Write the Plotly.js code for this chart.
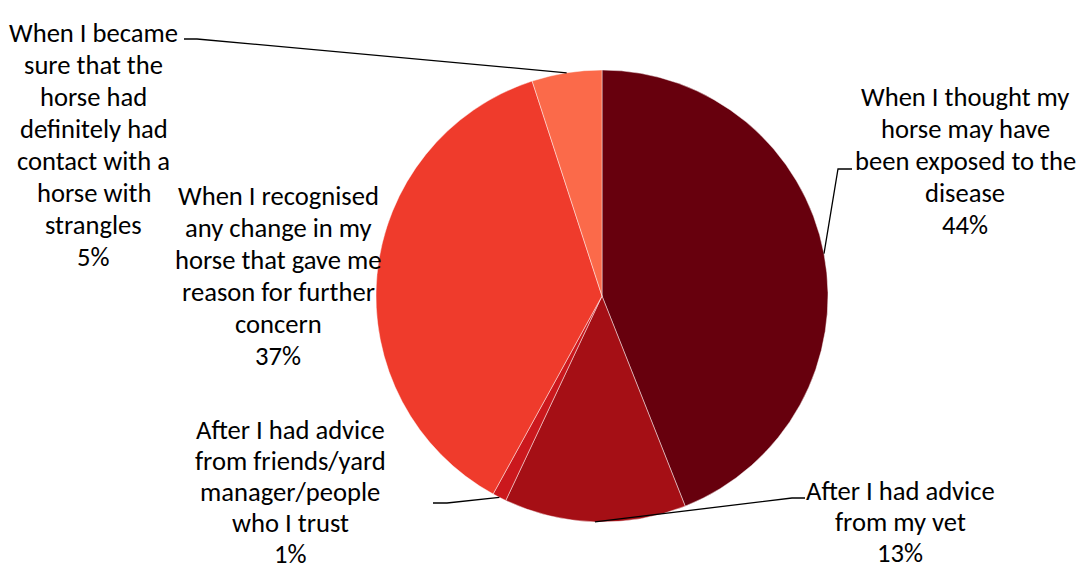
<!DOCTYPE html>
<html>
<head>
<meta charset="utf-8">
<script src="https://cdn.plot.ly/plotly-3.0.1.min.js"></script>
<style>html,body{margin:0;padding:0;background:#fff;}#chart{width:1078px;height:571px;}</style>
</head>
<body>
<div id="chart"></div>
<script>
// ---- data ----
const categories = [
  "When I thought my<br>horse may have<br>been exposed to the<br>disease",
  "After I had advice<br>from my vet",
  "After I had advice<br>from friends/yard<br>manager/people<br>who I trust",
  "When I recognised<br>any change in my<br>horse that gave me<br>reason for further<br>concern",
  "When I became<br>sure that the<br>horse had<br>definitely had<br>contact with a<br>horse with<br>strangles"
];
const values = [44, 13, 1, 37, 5];
const colors = ["#67000d", "#a50f15", "#cb181d", "#ef3b2c", "#fb6a4a"];

// ---- layout helpers (pixel positions of label blocks and leader elbows) ----
const W = 1078, H = 571;
const pieBox = {x0: 376, x1: 828, y0: 70, y1: 522};
const labelCenters = [[965, 161], [900, 522], [290, 492], [278, 276], [94, 145]];
const lineGaps = [32, 31, 31, 32, 32];
const leaderStarts = [[852, 169], [805, 498], [433, 503], null, [184, 39]];
const leaderElbows = [[838, 169], [792, 498], [447, 503], null, [197, 39]];
const FONT_SIZE = 26.6;

const px = x => x / W;
const py = y => 1 - y / H;

const total = values.reduce((a, b) => a + b, 0);
const cx = (pieBox.x0 + pieBox.x1) / 2, cy = (pieBox.y0 + pieBox.y1) / 2;
const r = Math.min(pieBox.x1 - pieBox.x0, pieBox.y1 - pieBox.y0) / 2;

const FONT = "Carlito, Calibri, Lato, sans-serif";
const annotations = [];
const shapes = [];
let cum = 0;
values.forEach((v, i) => {
  const mid = (cum + v / 2) / total * 2 * Math.PI; // clockwise from 12 o'clock
  cum += v;
  const pct = Math.round(v / total * 100) + "%";
  const lines = categories[i].split("<br>").concat([pct]);
  const n = lines.length;
  lines.forEach((t, j) => {
    annotations.push({
      x: px(labelCenters[i][0]), y: py(labelCenters[i][1] + (j - (n - 1) / 2) * lineGaps[i]),
      xref: "paper", yref: "paper",
      xanchor: "center", yanchor: "middle", align: "center", showarrow: false,
      text: t,
      font: {family: FONT, size: FONT_SIZE, color: "#000"}
    });
  });
  if (leaderStarts[i]) {
    const ex = cx + r * Math.sin(mid), ey = cy - r * Math.cos(mid);
    shapes.push({
      type: "path", xref: "paper", yref: "paper",
      path: `M ${px(leaderStarts[i][0])} ${py(leaderStarts[i][1])} L ${px(leaderElbows[i][0])} ${py(leaderElbows[i][1])} L ${px(ex)} ${py(ey)}`,
      line: {color: "#000", width: 1.3}
    });
  }
});

const trace = {
  type: "pie",
  labels: categories,
  values: values,
  sort: false,
  direction: "clockwise",
  rotation: 0,
  textinfo: "none",
  hoverinfo: "none",
  showlegend: false,
  marker: {colors: colors, line: {color: "rgba(255,255,255,0.45)", width: 1}},
  domain: {x: [px(pieBox.x0), px(pieBox.x1)], y: [py(pieBox.y1), py(pieBox.y0)]}
};

const layout = {
  width: W, height: H,
  margin: {l: 0, r: 0, t: 0, b: 0},
  paper_bgcolor: "#fff",
  showlegend: false,
  annotations: annotations,
  shapes: shapes
};

Plotly.newPlot("chart", [trace], layout, {displayModeBar: false, staticPlot: true});
</script>
</body>
</html>
